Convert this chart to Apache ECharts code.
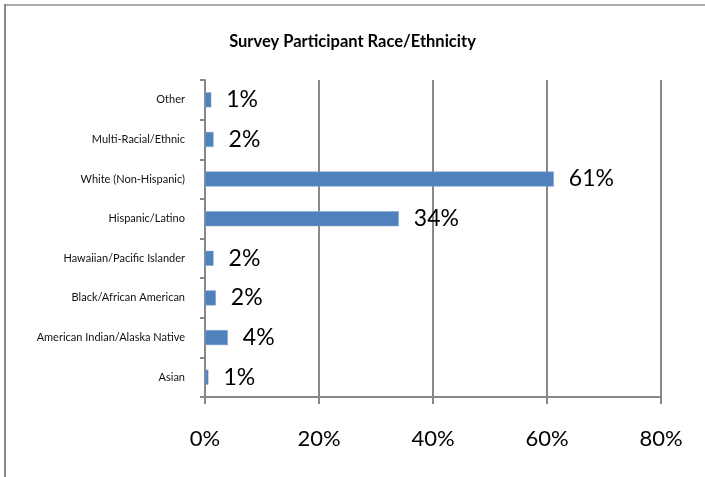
<!DOCTYPE html>
<html>
<head>
<meta charset="utf-8">
<script src="https://cdn.jsdelivr.net/npm/echarts@6/dist/echarts.min.js"></script>
<style>
  html, body { margin: 0; padding: 0; background: #fff; }
  #frame { position: absolute; left: 0; top: 0; width: 705px; height: 477px; }
  #chart { width: 705px; height: 477px; }
</style>
</head>
<body>
<div id="frame"><div id="chart"></div></div>
<script>
// Survey respondents by race/ethnicity (percent of participants)
const categories = [
  'Asian',
  'American Indian/Alaska Native',
  'Black/African American',
  'Hawaiian/Pacific Islander',
  'Hispanic/Latino',
  'White (Non-Hispanic)',
  'Multi-Racial/Ethnic',
  'Other'
];
const shares = [0.6, 4.0, 1.9, 1.5, 34.0, 61.2, 1.5, 1.1];
const tickValues = [0, 20, 40, 60, 80];

const chart = echarts.init(document.getElementById('chart'), null, { renderer: 'canvas' });
const fontFamily = 'Lato, "Open Sans", "Liberation Sans", sans-serif';

chart.setOption({
  animation: false,
  backgroundColor: '#fff',
  title: {
    text: 'Survey Participant Race/Ethnicity',
    left: 'center',
    top: 28,
    textStyle: { fontFamily, fontSize: 16.5, fontWeight: 'bold', color: '#000' }
  },
  grid: { left: 205, right: 44, top: 80, bottom: 80, containLabel: false },
  xAxis: {
    type: 'value',
    min: tickValues[0],
    max: tickValues[tickValues.length - 1],
    interval: tickValues[1] - tickValues[0],
    axisLine: { show: true, lineStyle: { color: '#888', width: 2 } },
    axisTick: { show: true, length: 7, lineStyle: { color: '#888', width: 2 } },
    splitLine: { show: true, lineStyle: { color: '#888', width: 2 } },
    axisLabel: {
      formatter: v => v + '%',
      fontFamily, fontSize: 22, color: '#000', margin: 31
    }
  },
  yAxis: {
    type: 'category',
    data: categories,
    axisLine: { show: true, lineStyle: { color: '#888', width: 2 } },
    axisTick: { show: true, length: 5, lineStyle: { color: '#888', width: 2 } },
    axisLabel: { fontFamily, fontSize: 11, color: '#111', margin: 20 }
  },
  series: [{
    type: 'bar',
    data: shares,
    barWidth: 15,
    itemStyle: { color: '#4F81BD', borderColor: '#7fa3cf', borderWidth: 0.5 },
    label: {
      show: true,
      position: 'right',
      distance: 15,
      formatter: p => Math.round(p.value) + '%',
      fontFamily, fontSize: 23, color: '#000'
    }
  }],
  graphic: [
    { type: 'rect', shape: { x: 4, y: 4, width: 710, height: 2 }, style: { fill: '#aaa' }, silent: true },
    { type: 'rect', shape: { x: 4, y: 4, width: 2, height: 480 }, style: { fill: '#888' }, silent: true }
  ]
});
</script>
</body>
</html>
